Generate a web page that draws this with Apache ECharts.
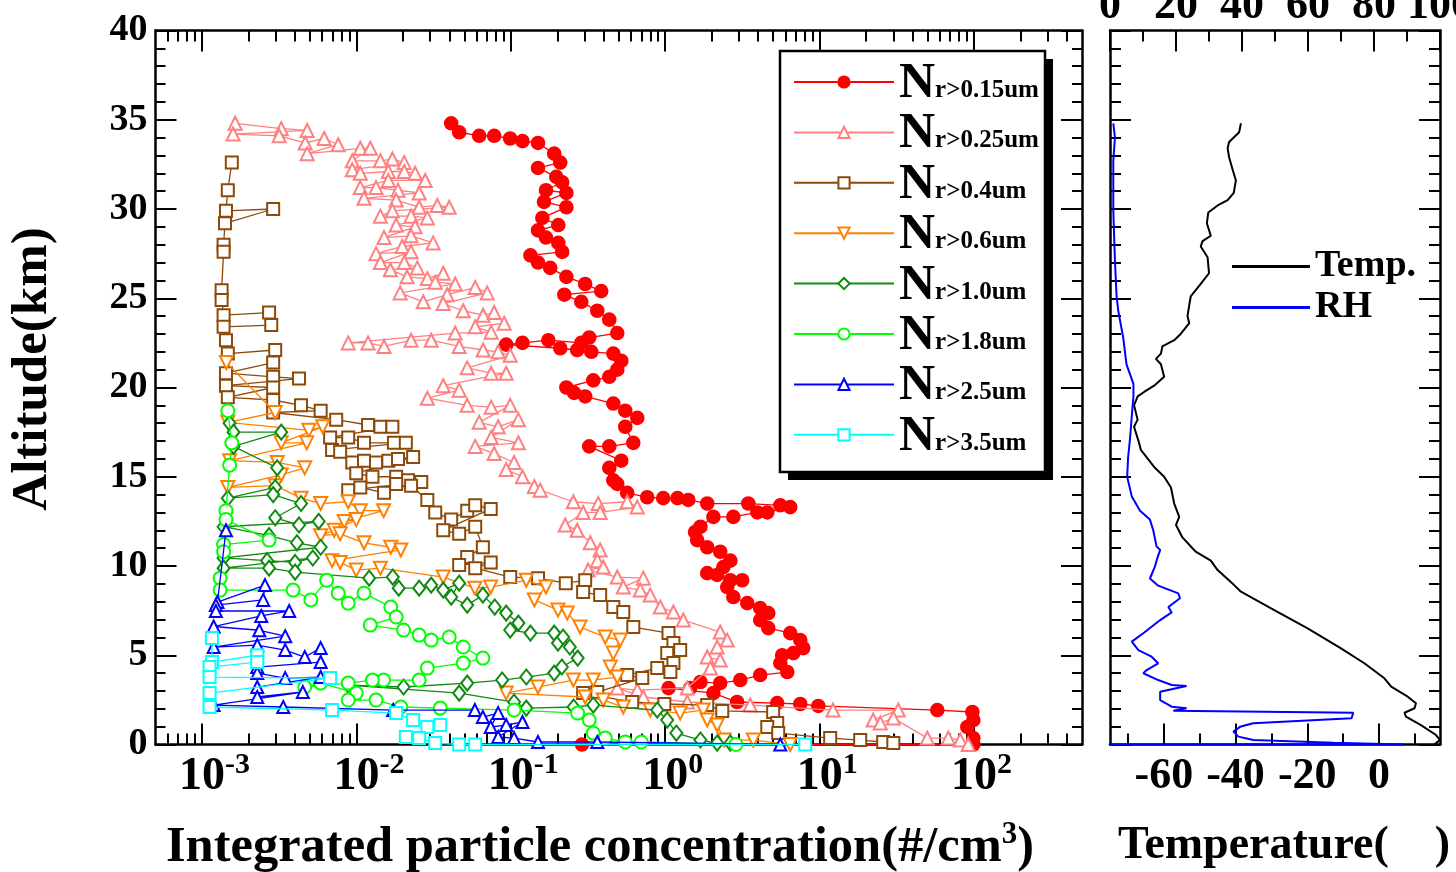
<!DOCTYPE html>
<html><head><meta charset="utf-8">
<script src="https://cdn.jsdelivr.net/npm/echarts@6/dist/echarts.min.js"></script>
<style>html,body{margin:0;padding:0;background:#fff}#c{width:1456px;height:872px}</style>
</head><body><div id="c"></div>
<script>
// ---------- data: [concentration (#/cm3), altitude (km)] ----------
const seriesNames = ['r>0.15um','r>0.25um','r>0.4um','r>0.6um','r>1.0um','r>1.8um','r>2.5um','r>3.5um'];
const seriesColors = ['#FF0000','#FF8080','#8C4A0A','#FF8000','#108A10','#00FF00','#0000FF','#00FFFF'];

const n015 = [[0.0411,34.8],[0.0463,34.3],[0.0624,34.1],[0.078,34.1],[0.099,33.95],[0.119,33.8],[0.150,33.7],[0.191,33.1],[0.209,32.6],[0.150,32.3],[0.197,31.8],[0.215,31.5],[0.169,31.05],[0.229,30.9],[0.164,30.4],[0.229,30.1],[0.160,29.5],[0.203,29.1],[0.150,28.8],[0.169,28.4],[0.203,28.1],[0.215,27.6],[0.134,27.4],[0.150,27.0],[0.180,26.7],[0.229,26.2],[0.303,25.8],[0.385,25.4],[0.222,25.2],[0.286,24.8],[0.363,24.3],[0.434,23.8],[0.489,23.05],[0.322,22.8],[0.286,22.5],[0.175,22.65],[0.119,22.5],[0.0933,22.4],[0.209,22.2],[0.269,22.1],[0.332,22.0],[0.461,21.9],[0.519,21.5],[0.489,21.0],[0.434,20.6],[0.342,20.4],[0.229,20.0],[0.257,19.7],[0.303,19.5],[0.461,19.1],[0.551,18.7],[0.659,18.3],[0.551,17.8],[0.621,16.9],[0.434,16.7],[0.322,16.7],[0.519,15.9],[0.434,15.5],[0.461,14.8],[0.489,14.6],[0.567,14.1],[0.764,13.85],[0.97,13.8],[1.20,13.8],[1.41,13.7],[1.87,13.5],[3.45,13.5],[5.56,13.4],[6.45,13.3],[4.58,13.0],[3.95,13.0],[2.76,12.75],[2.05,12.75],[1.69,12.2],[1.56,11.9],[1.61,11.45],[1.87,11.05],[2.27,10.8],[2.64,10.3],[2.38,9.94],[1.87,9.6],[2.17,9.5],[2.64,9.2],[3.15,9.2],[2.52,8.82],[2.76,8.26],[3.40,7.92],[4.12,7.64],[4.65,7.36],[4.12,6.97],[4.65,6.52],[6.45,6.24],[7.49,5.85],[7.83,5.4],[6.75,5.12],[5.72,5.0],[5.56,4.56],[6.17,4.06],[4.12,3.89],[3.06,3.61],[2.27,3.44],[1.69,3.5],[1.45,3.16],[1.05,3.16],[2.05,2.88],[2.92,2.38],[5.31,2.32],[7.49,2.27],[9.80,2.16],[57.8,1.93],[97.5,1.82],[98.9,1.37],[90.4,0.98],[98.9,0.36],[98.9,0],[0.289,0]];

const n025 = [[1.64e-3,34.8],[3.26e-3,34.5],[4.80e-3,34.4],[1.59e-3,34.2],[3.16e-3,34.1],[4.66e-3,33.7],[6.18e-3,33.95],[7.62e-3,33.6],[4.80e-3,33.1],[0.0106,33.4],[0.0123,33.4],[0.0094,32.7],[0.0143,32.7],[0.0171,32.8],[0.0204,32.6],[0.0094,32.2],[0.0106,32.0],[0.0161,32.1],[0.0204,32.1],[0.0240,32.0],[0.0279,31.6],[0.0161,31.6],[0.0106,31.2],[0.0134,31.2],[0.0186,31.05],[0.0255,30.9],[0.0112,30.6],[0.0181,30.5],[0.0255,30.1],[0.0334,30.2],[0.0399,30.1],[0.0171,29.9],[0.0143,29.6],[0.0226,29.6],[0.0288,29.5],[0.0181,29.1],[0.0240,29.0],[0.0151,28.4],[0.0226,28.5],[0.0314,28.1],[0.0198,27.9],[0.0134,27.5],[0.0226,27.6],[0.0143,27.0],[0.0204,27.0],[0.0248,26.7],[0.0166,26.6],[0.0213,26.2],[0.0288,26.1],[0.0365,26.4],[0.0324,25.9],[0.0436,25.8],[0.0192,25.3],[0.0271,24.8],[0.0387,25.2],[0.0588,25.6],[0.0703,25.3],[0.0365,24.7],[0.0492,24.3],[0.0662,24.05],[0.0780,24.2],[0.0906,23.6],[0.0588,23.4],[0.0746,23.1],[0.0436,23.05],[0.00885,22.5],[0.0119,22.5],[0.0151,22.3],[0.0226,22.65],[0.0305,22.65],[0.0463,22.3],[0.0662,22.1],[0.0828,22.0],[0.0991,21.8],[0.0522,21.1],[0.0746,20.8],[0.0933,20.8],[0.0365,20.1],[0.0463,19.85],[0.0288,19.4],[0.0522,19.0],[0.0746,18.9],[0.0991,19.0],[0.0624,18.05],[0.0828,17.8],[0.112,18.2],[0.0746,17.2],[0.112,16.9],[0.0588,16.7],[0.0780,16.3],[0.105,15.8],[0.0933,15.4],[0.119,15.0],[0.142,14.45],[0.155,14.25],[0.254,13.6],[0.368,13.5],[0.567,13.6],[0.659,13.3],[0.379,13.0],[0.294,13.0],[0.225,12.3],[0.269,12.0],[0.327,11.3],[0.379,10.9],[0.363,10.3],[0.397,9.94],[0.317,9.77],[0.489,9.38],[0.721,9.32],[0.535,8.82],[0.689,8.65],[0.80,8.37],[0.929,7.7],[1.13,7.42],[1.31,6.97],[2.27,6.3],[2.52,5.85],[2.17,5.46],[1.87,4.9],[2.27,4.73],[1.96,4.28],[1.39,3.16],[0.659,3.05],[0.489,3.16],[0.721,2.66],[1.39,2.38],[3.55,2.21],[12.2,1.93],[32.3,1.93],[22.2,1.37],[24.7,1.2],[30.0,1.48],[49.8,0.36],[68.1,0.36],[81.4,0.25],[91.6,0]];

const n04 = [[1.56e-3,32.6],[1.47e-3,31.05],[1.43e-3,29.9],[2.89e-3,30.0],[1.41e-3,29.2],[1.38e-3,28.0],[1.38e-3,27.6],[1.34e-3,25.45],[1.34e-3,24.9],[1.38e-3,24.05],[2.72e-3,24.2],[2.81e-3,23.5],[1.38e-3,23.4],[1.43e-3,22.65],[1.47e-3,21.9],[2.98e-3,22.1],[2.89e-3,21.4],[1.43e-3,20.8],[2.89e-3,20.6],[4.25e-3,20.5],[1.43e-3,20.1],[2.89e-3,20.0],[1.47e-3,19.45],[2.89e-3,19.3],[4.38e-3,19.0],[5.87e-3,18.7],[2.89e-3,18.6],[7.40e-3,18.2],[0.0119,17.9],[0.0143,17.8],[0.0171,17.8],[6.76e-3,17.2],[8.85e-3,17.2],[0.0112,16.9],[0.0175,16.9],[0.0209,16.9],[6.96e-3,16.5],[7.85e-3,16.4],[9.40e-3,15.8],[0.0112,15.9],[0.0134,15.8],[0.0161,15.9],[0.0186,16.0],[0.0233,16.1],[9.98e-3,15.2],[0.0127,15.0],[0.0181,15.0],[0.0216,14.8],[0.0263,14.7],[8.85e-3,14.25],[0.0106,14.4],[0.0151,14.1],[0.0181,14.6],[0.0226,14.5],[0.0288,13.7],[0.0324,13.0],[0.0411,12.6],[0.0522,13.1],[0.0588,13.4],[0.0741,13.2],[0.0365,12.0],[0.0463,11.8],[0.0588,12.2],[0.0659,11.05],[0.0522,10.5],[0.0463,10.05],[0.0741,10.2],[0.0588,9.88],[0.0991,9.38],[0.150,9.32],[0.227,9.04],[0.303,9.2],[0.294,8.54],[0.379,8.37],[0.461,7.7],[0.535,7.42],[0.621,6.58],[1.05,6.24],[1.13,5.68],[1.03,5.12],[1.25,5.29],[1.13,4.56],[1.08,4.06],[0.888,4.28],[0.567,3.89],[0.71,3.72],[0.363,2.94],[0.294,2.88],[0.611,2.38],[0.987,2.27],[1.87,2.21],[2.34,1.88],[5.0,1.82],[5.31,1.2],[4.58,0.98],[5.39,0.64],[11.7,0.36],[18.3,0.25],[25.8,0.14],[30.0,0.08]];

const n06 = [[1.44e-3,21.4],[2.98e-3,18.6],[1.47e-3,18.05],[4.92e-3,17.6],[6.05e-3,17.8],[3.26e-3,16.9],[4.77e-3,16.9],[1.51e-3,15.9],[3.07e-3,15.8],[4.63e-3,15.5],[3.26e-3,15.1],[1.47e-3,14.4],[2.98e-3,14.5],[4.38e-3,13.8],[5.87e-3,13.5],[8.85e-3,13.6],[0.0106,13.1],[0.0150,13.1],[8.34e-3,12.5],[9.98e-3,12.6],[7.18e-3,12.0],[5.87e-3,11.7],[7.85e-3,11.8],[0.0112,11.3],[0.0167,11.05],[0.0194,10.9],[6.96e-3,10.3],[7.85e-3,10.2],[9.98e-3,9.77],[0.0143,9.88],[0.0365,9.38],[0.0585,8.76],[0.0741,8.82],[0.126,9.2],[0.169,8.82],[0.142,8.1],[0.202,7.53],[0.232,7.36],[0.281,6.58],[0.409,6.02],[0.511,5.85],[0.461,5.12],[0.441,4.34],[0.489,3.78],[0.342,3.61],[0.254,3.61],[0.150,3.22],[0.0933,2.88],[0.303,2.66],[0.397,2.49],[0.535,2.1],[0.80,1.93],[1.25,1.76],[1.76,1.93],[1.87,1.37],[2.17,1.09],[2.41,0.25],[3.72,0.25],[6.45,0]];

const n10 = [[1.51e-3,18.0],[1.60e-3,17.5],[3.26e-3,17.5],[1.60e-3,16.7],[3.07e-3,15.5],[2.98e-3,14.4],[1.47e-3,13.8],[2.89e-3,14.0],[4.38e-3,13.5],[2.98e-3,12.7],[4.25e-3,12.3],[5.70e-3,12.5],[1.38e-3,12.2],[2.72e-3,11.7],[4.12e-3,11.3],[5.87e-3,11.05],[1.38e-3,10.45],[2.64e-3,10.3],[4.01e-3,10.2],[5.22e-3,10.45],[1.38e-3,9.88],[2.72e-3,9.88],[4.01e-3,9.66],[0.0121,9.32],[0.0172,9.38],[0.0188,8.76],[0.0255,8.76],[0.0305,8.93],[0.0365,8.65],[0.0463,9.04],[0.0411,8.26],[0.0522,7.81],[0.0659,8.37],[0.0787,7.7],[0.0933,7.36],[0.112,6.8],[0.0991,6.41],[0.134,6.24],[0.191,6.24],[0.202,5.68],[0.218,6.02],[0.241,5.46],[0.271,4.84],[0.214,4.34],[0.191,4.0],[0.126,3.78],[0.0879,3.61],[0.0522,3.44],[0.0202,3.22],[8.85e-3,3.33],[0.0463,2.88],[0.105,2.38],[0.126,2.04],[0.255,2.1],[0.342,2.21],[0.888,1.93],[1.03,1.37],[1.18,0.64],[1.69,0.25],[2.17,0.08],[2.64,0.08]];

const n18 = [[1.47e-3,18.7],[1.56e-3,16.9],[1.51e-3,15.65],[1.43e-3,13.1],[1.43e-3,12.6],[2.72e-3,11.45],[1.38e-3,11.2],[1.38e-3,10.8],[1.31e-3,9.32],[1.31e-3,8.65],[3.89e-3,8.65],[5.07e-3,8.1],[6.41e-3,9.2],[7.62e-3,8.48],[8.85e-3,7.92],[0.0112,8.48],[0.0167,7.7],[0.0181,7.14],[0.0123,6.69],[0.0202,6.41],[0.0255,6.13],[0.0305,5.85],[0.0399,6.02],[0.0492,5.46],[0.0659,4.84],[0.0492,4.56],[0.0288,4.28],[0.0255,3.61],[0.0150,3.61],[0.0127,3.61],[8.85e-3,3.44],[4.63e-3,3.22],[5.87e-3,3.44],[9.98e-3,2.88],[8.85e-3,2.49],[0.0134,2.49],[0.0194,2.1],[0.0349,2.04],[0.105,1.93],[0.271,1.76],[0.322,1.37],[0.342,0.64],[0.409,0.36],[0.551,0.14],[0.70,0.14],[2.87,0]];

const n25 = [[1.43e-3,12.0],[1.26e-3,7.98],[2.56e-3,8.93],[2.49e-3,8.1],[1.23e-3,7.81],[1.23e-3,7.48],[3.67e-3,7.48],[2.42e-3,7.2],[1.19e-3,6.61],[2.35e-3,6.4],[3.46e-3,6.07],[1.19e-3,5.46],[2.28e-3,5.57],[3.46e-3,5.29],[4.63e-3,4.9],[5.87e-3,5.4],[5.87e-3,4.62],[2.28e-3,4.34],[2.28e-3,4.0],[3.46e-3,3.72],[5.87e-3,3.78],[2.28e-3,3.22],[2.28e-3,2.66],[4.50e-3,2.94],[1.19e-3,2.21],[3.36e-3,2.1],[0.0173,1.93],[0.0585,1.93],[0.0659,1.54],[0.0828,1.76],[0.0741,0.98],[0.0933,1.09],[0.119,1.26],[0.0828,0.42],[0.105,0.36],[0.150,0.14],[0.363,0.14],[5.56,0]];

const n35 = [[1.16e-3,5.96],[1.16e-3,4.62],[2.28e-3,5.0],[2.28e-3,4.62],[1.12e-3,4.34],[1.12e-3,3.78],[6.76e-3,3.72],[1.12e-3,2.88],[1.12e-3,2.1],[6.96e-3,1.93],[0.0181,1.76],[0.0233,1.37],[0.0288,0.98],[0.0349,1.09],[0.0209,0.42],[0.0255,0.36],[0.0324,0.08],[0.0463,0],[0.0588,0],[8.07,0]];

// [temperature (deg C), altitude (km)]
const tempC = [[-38.5,34.8],[-39.0,34.3],[-41.8,33.75],[-42.2,33.4],[-41.8,32.9],[-40.8,32.2],[-39.9,31.6],[-40.5,30.9],[-42.2,30.5],[-45,30.2],[-47.6,29.8],[-48,29.2],[-46.9,28.5],[-49.2,28.2],[-49.7,27.9],[-47.8,27.3],[-47.4,26.4],[-49.7,25.8],[-52.5,25.1],[-53.4,24.0],[-52.9,23.6],[-55.3,23.0],[-57.1,22.65],[-60.4,22.3],[-60.8,21.9],[-62.2,21.6],[-60.8,21.3],[-59.9,20.6],[-62.7,20.1],[-65.5,19.75],[-67.3,19.5],[-68.3,19.0],[-67.3,18.2],[-68.3,17.8],[-66.9,16.9],[-66.4,16.5],[-62.7,15.55],[-59.9,15.0],[-58.0,14.4],[-57.1,13.5],[-55.7,12.75],[-56.6,12.3],[-54.8,11.6],[-51.1,10.8],[-46.9,10.3],[-45.0,9.77],[-40.4,8.93],[-38.5,8.56],[-29.2,7.53],[-19.9,6.5],[-10.6,5.39],[-4.1,4.55],[1.5,3.71],[3.4,3.24],[8.0,2.68],[10.3,2.31],[9.9,2.03],[7.1,1.78],[7.5,1.56],[11.7,1.09],[15.9,0.53],[17,0.25],[16.4,0.16],[15.4,0]];
// [relative humidity (%), altitude (km)]
const rhPct = [[1.0,34.8],[1.5,34.0],[1.0,32.7],[1.0,29.9],[1.5,27.1],[2.0,25.1],[2.5,24.3],[4.0,22.8],[5.0,21.3],[7.1,20.2],[7.1,19.5],[6.6,18.4],[6.1,17.2],[5.5,16.1],[5.2,15.0],[6.6,13.9],[9.1,13.1],[12.1,12.6],[13.1,12.0],[14.1,11.1],[15.2,10.9],[14.1,10.3],[13.6,9.96],[12.1,9.3],[14.6,8.9],[20.7,8.47],[21.2,8.19],[17.7,7.7],[18.7,7.4],[15.2,6.97],[10.1,6.23],[6.6,5.76],[8.6,5.29],[12.6,4.92],[14.6,4.55],[11.1,4.17],[10.1,3.99],[14.6,3.61],[18.7,3.33],[23.2,3.28],[15.2,2.96],[15.2,2.49],[18.7,2.12],[23.2,2.03],[19.2,1.89],[73.7,1.78],[73.2,1.47],[43.4,1.19],[39.4,0.99],[37.4,0.72],[38.9,0.44],[43.4,0.25],[67.7,0.1],[88.9,0],[0,0]];

// axis tick values
const concMin = 5e-4, concMax = 500;
const decadeExponents = [-3,-2,-1,0,1,2];
const minorMultipliers = [2,3,4,5,6,7,8,9];
const altTicks = {min:0, max:40, step:5};
const tempMajor = [-60,-40,-20,0];
const tempMinor = [-70,-50,-30,-10,10];
const tempRange = [-75, 17];
const rhRange = [0, 100];

// ---------- chart ----------
const FONT = '"Liberation Serif","Times New Roman",serif';
const lg = Math.log10;
const xMin = lg(concMin), xMax = lg(concMax);
const minorLog = [];
for (let e = -4; e <= 2; e++) for (const m of minorMultipliers) { const v = lg(m * Math.pow(10, e)); if (v > xMin + 1e-6 && v < xMax - 1e-6) minorLog.push(v); }

const AX = {color:'#000', width:2.5};
const TK = {color:'#000', width:2};
function baseAxis(extra){
  return Object.assign({type:'value', axisLine:{show:true,onZero:false,lineStyle:AX}, splitLine:{show:false}, axisLabel:{show:false}, axisTick:{show:false}}, extra);
}
const leftGrid = {left:155.5, top:30.5, width:926.5, height:714, outerBoundsMode:'none', containLabel:false};
const rightGrid = {left:1110, top:30.5, width:330, height:714, outerBoundsMode:'none', containLabel:false};

const symbols = [
  {symbol:'circle', size:13, rot:0},
  {symbol:'emptyTriangle', size:13, rot:0},
  {symbol:'emptyRect', size:12, rot:0},
  {symbol:'emptyTriangle', size:13, rot:180},
  {symbol:'emptyDiamond', size:[12,15], rot:0},
  {symbol:'emptyCircle', size:13, rot:0},
  {symbol:'emptyTriangle', size:12, rot:0},
  {symbol:'emptyRect', size:12, rot:0}
];
const allSets = [n015, n025, n04, n06, n10, n18, n25, n35];

const series = allSets.map((arr, i) => ({
  type:'line', name: seriesNames[i], xAxisIndex:0, yAxisIndex:0,
  data: arr.map(p => [lg(p[0]), p[1]]),
  symbol: symbols[i].symbol, symbolSize: symbols[i].size, symbolRotate: symbols[i].rot,
  showSymbol:true, clip:false, animation:false, silent:true,
  lineStyle:{color: seriesColors[i], width:1.3},
  itemStyle:{color: seriesColors[i], borderColor: seriesColors[i], borderWidth:1.6},
  emphasis:{disabled:true}, z: 2 + i
}));
series.push({type:'line', name:'Temp.', xAxisIndex:4, yAxisIndex:2, data: tempC, symbol:'none', showSymbol:false, clip:false, animation:false, silent:true, lineStyle:{color:'#000', width:2}, itemStyle:{color:'#000'}, z:3});
series.push({type:'line', name:'RH', xAxisIndex:6, yAxisIndex:2, data: rhPct, symbol:'none', showSymbol:false, clip:false, animation:false, silent:true, lineStyle:{color:'#0000FF', width:2}, itemStyle:{color:'#0000FF'}, z:4});

const option = {
  backgroundColor:'#fff',
  animation:false,
  grid:[leftGrid, rightGrid],
  xAxis:[
    baseAxis({gridIndex:0, position:'bottom', min:xMin, max:xMax,
      axisTick:{show:true, inside:true, length:21, lineStyle:TK, customValues: decadeExponents},
      axisLabel:{show:true, customValues: decadeExponents, margin:6,
        formatter: v => { const e = Math.round(v); return '{' + (e<0?'wn':'wp') + '|}{b|10}{s|' + e + '}'; },
        rich:{
          b:{fontSize:46, fontWeight:'bold', fontFamily:FONT, color:'#000', lineHeight:50, verticalAlign:'bottom'},
          s:{fontSize:30, fontWeight:'bold', fontFamily:FONT, color:'#000', lineHeight:50, verticalAlign:'top'},
          wn:{width:25}, wp:{width:15}
        }}}),
    baseAxis({gridIndex:0, position:'bottom', min:xMin, max:xMax, axisLine:{show:false,onZero:false},
      axisTick:{show:true, inside:true, length:11, lineStyle:TK, customValues: minorLog}}),
    baseAxis({gridIndex:0, position:'top', min:xMin, max:xMax,
      axisTick:{show:true, inside:true, length:21, lineStyle:TK, customValues: decadeExponents}}),
    baseAxis({gridIndex:0, position:'top', min:xMin, max:xMax, axisLine:{show:false,onZero:false},
      axisTick:{show:true, inside:true, length:11, lineStyle:TK, customValues: minorLog}}),
    baseAxis({gridIndex:1, position:'bottom', min:tempRange[0], max:tempRange[1],
      axisTick:{show:true, inside:true, length:21, lineStyle:TK, customValues: tempMajor},
      axisLabel:{show:true, customValues: tempMajor, margin:10, fontSize:44, fontWeight:'bold', fontFamily:FONT, color:'#000'}}),
    baseAxis({gridIndex:1, position:'bottom', min:tempRange[0], max:tempRange[1], axisLine:{show:false,onZero:false},
      axisTick:{show:true, inside:true, length:11, lineStyle:TK, customValues: tempMinor}}),
    baseAxis({gridIndex:1, position:'top', min:rhRange[0], max:rhRange[1], interval:20,
      axisTick:{show:true, inside:true, length:21, lineStyle:TK},
      minorTick:{show:true, splitNumber:2, length:11, lineStyle:TK},
      axisLabel:{show:true, margin:2, fontSize:44, fontWeight:'bold', fontFamily:FONT, color:'#000'}})
  ],
  yAxis:[
    baseAxis({gridIndex:0, position:'left', min:altTicks.min, max:altTicks.max, interval:altTicks.step,
      axisTick:{show:true, inside:true, length:21, lineStyle:TK},
      minorTick:{show:true, splitNumber:5, length:10, lineStyle:TK},
      axisLabel:{show:true, margin:8, fontSize:38, fontWeight:'bold', fontFamily:FONT, color:'#000'}}),
    baseAxis({gridIndex:0, position:'right', min:altTicks.min, max:altTicks.max, interval:altTicks.step,
      axisTick:{show:true, inside:true, length:21, lineStyle:TK},
      minorTick:{show:true, splitNumber:5, length:10, lineStyle:TK}}),
    baseAxis({gridIndex:1, position:'left', min:altTicks.min, max:altTicks.max, interval:altTicks.step,
      axisTick:{show:true, inside:true, length:21, lineStyle:TK},
      minorTick:{show:true, splitNumber:5, length:11, lineStyle:TK}}),
    baseAxis({gridIndex:1, position:'right', min:altTicks.min, max:altTicks.max, interval:altTicks.step,
      axisTick:{show:true, inside:true, length:21, lineStyle:TK},
      minorTick:{show:true, splitNumber:5, length:11, lineStyle:TK}})
  ],
  legend:[
    {show:true, orient:'vertical', left:793, top:59, padding:0, itemWidth:100, itemHeight:14, itemGap:0.4,
     selectedMode:false, data: seriesNames, z:20,
     formatter: name => '{n|N}{s|' + name + '}',
     textStyle:{color:'#000', rich:{
       n:{fontSize:50, fontWeight:'bold', fontFamily:FONT, color:'#000', lineHeight:50, verticalAlign:'bottom', padding:[0,0,-2,0]},
       s:{fontSize:25, fontWeight:'bold', fontFamily:FONT, color:'#000', lineHeight:50, verticalAlign:'bottom', padding:[0,0,4,0]}
     }}},
    {show:true, orient:'vertical', left:1232, top:246, padding:0, itemWidth:78, itemHeight:3, itemGap:0, icon:'rect',
     selectedMode:false, data:['Temp.','RH'], z:20,
     textStyle:{color:'#000', fontSize:38, fontWeight:'bold', fontFamily:FONT, lineHeight:41}}
  ],
  graphic:[
    {type:'rect', z:15, shape:{x:788, y:59, width:265, height:421}, style:{fill:'#000'}},
    {type:'rect', z:16, shape:{x:780, y:51, width:265, height:421}, style:{fill:'#fff', stroke:'#000', lineWidth:2.5}},
    {type:'text', z:20, x:33, y:369, rotation:Math.PI/2, style:{text:'Altitude(km)', font:'bold 51px ' + FONT, fill:'#000', align:'center', verticalAlign:'middle'}},
    {type:'text', z:20, x:600, y:846, style:{text:'{m|Integrated particle concentration(#/cm}{u|3}{m|)}', fill:'#000', align:'center', verticalAlign:'middle',
      rich:{m:{fontSize:50.5, fontWeight:'bold', fontFamily:FONT, lineHeight:54, verticalAlign:'bottom'}, u:{fontSize:31, fontWeight:'bold', fontFamily:FONT, lineHeight:54, verticalAlign:'top'}}}},
    {type:'text', z:20, x:1284, y:846, style:{text:'Temperature(    )', font:'bold 46px ' + FONT, fill:'#000', align:'center', verticalAlign:'middle'}}
  ],
  series: series
};
const chart = echarts.init(document.getElementById('c'), null, {renderer:'canvas'});
chart.setOption(option);
</script></body></html>
